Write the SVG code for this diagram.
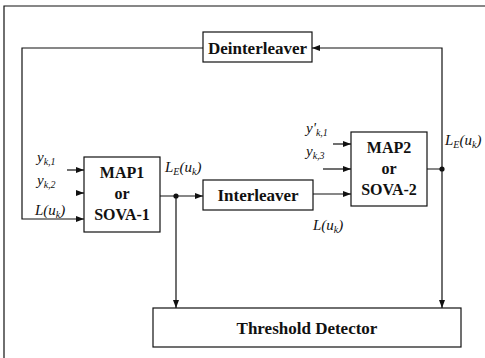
<svg xmlns="http://www.w3.org/2000/svg" width="485" height="358" viewBox="0 0 485 358">
  <style>
    .box { fill: #fff; stroke: #111; stroke-width: 1.2; }
    .wire { fill: none; stroke: #111; stroke-width: 1.2; }
    text { font-family: 'Liberation Serif', 'DejaVu Serif', serif; fill: #111; }
    .title { font-weight: bold; font-size: 17px; text-anchor: middle; }
    .dec { font-weight: bold; font-size: 16px; text-anchor: middle; }
    .lbl { font-style: italic; font-size: 15px; }
    .sub { font-size: 10px; }
  </style>
  <defs>
    <marker id="arrow" markerUnits="userSpaceOnUse" markerWidth="8" markerHeight="6" refX="8" refY="3" orient="auto">
      <path d="M0,0 L8,3 L0,6 z" fill="#111"/>
    </marker>
  </defs>
  <rect width="485" height="358" fill="#fff"/>

  <!-- outer frame -->
  <path class="wire" d="M4,358 V6 H485"/>

  <g id="connectors">
    <!-- feedback through deinterleaver -->
    <path class="wire" d="M203,48 H22 V219 H84" marker-end="url(#arrow)"/>
    <path class="wire" d="M442,169 V48 H312" marker-end="url(#arrow)"/>
    <!-- decoder 1 inputs -->
    <path class="wire" d="M67,170 H84" marker-end="url(#arrow)"/>
    <path class="wire" d="M76,193 H84" marker-end="url(#arrow)"/>
    <!-- decoder 1 output -->
    <path class="wire" d="M160,196 H203" marker-end="url(#arrow)"/>
    <path class="wire" d="M176,196 V308" marker-end="url(#arrow)"/>
    <circle cx="176" cy="196" r="2.6" fill="#111"/>
    <!-- decoder 2 inputs -->
    <path class="wire" d="M313,194 H351" marker-end="url(#arrow)"/>
    <path class="wire" d="M333,144 H351" marker-end="url(#arrow)"/>
    <path class="wire" d="M323,169 H351" marker-end="url(#arrow)"/>
    <!-- decoder 2 output -->
    <path class="wire" d="M427,169 H442 V308" marker-end="url(#arrow)"/>
    <circle cx="442" cy="169" r="2.6" fill="#111"/>
  </g>

  <g id="deinterleaver">
    <rect class="box" x="203" y="32" width="109" height="30"/>
    <text class="title" x="257.5" y="54">Deinterleaver</text>
  </g>

  <g id="decoder1">
    <rect class="box" x="84" y="157" width="76" height="75"/>
    <text class="dec" x="122" y="178">MAP1</text>
    <text class="dec" x="122" y="199">or</text>
    <text class="dec" x="122" y="220">SOVA-1</text>
  </g>

  <g id="interleaver">
    <rect class="box" x="203" y="180" width="110" height="30"/>
    <text class="title" x="258" y="201">Interleaver</text>
  </g>

  <g id="decoder2">
    <rect class="box" x="351" y="132" width="76" height="74"/>
    <text class="dec" x="389" y="153">MAP2</text>
    <text class="dec" x="389" y="174">or</text>
    <text class="dec" x="389" y="195">SOVA-2</text>
  </g>

  <g id="threshold">
    <rect class="box" x="153" y="308" width="308" height="39"/>
    <text class="title" x="307" y="334">Threshold Detector</text>
  </g>

  <g id="labels">
    <text class="lbl" x="37" y="162">y<tspan class="sub" dy="3">k,1</tspan></text>
    <text class="lbl" x="37" y="185">y<tspan class="sub" dy="3">k,2</tspan></text>
    <text class="lbl" x="35" y="215">L(u<tspan class="sub" dy="3">k</tspan><tspan dy="-3">)</tspan></text>
    <text class="lbl" x="165" y="172">L<tspan class="sub" dy="3">E</tspan><tspan dy="-3">(u</tspan><tspan class="sub" dy="3">k</tspan><tspan dy="-3">)</tspan></text>
    <text class="lbl" x="306" y="133">y'<tspan class="sub" dy="3">k,1</tspan></text>
    <text class="lbl" x="306" y="156">y<tspan class="sub" dy="3">k,3</tspan></text>
    <text class="lbl" x="313" y="230">L(u<tspan class="sub" dy="3">k</tspan><tspan dy="-3">)</tspan></text>
    <text class="lbl" x="445" y="145">L<tspan class="sub" dy="3">E</tspan><tspan dy="-3">(u</tspan><tspan class="sub" dy="3">k</tspan><tspan dy="-3">)</tspan></text>
  </g>
</svg>
